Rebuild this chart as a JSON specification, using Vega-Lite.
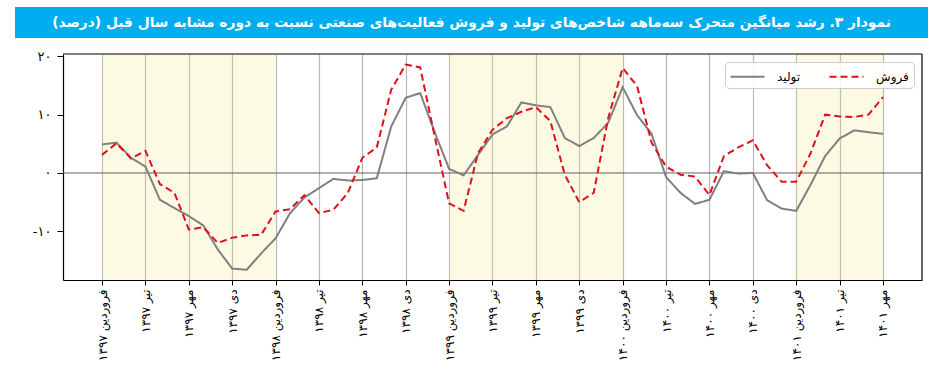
{
  "$schema": "https://vega.github.io/schema/vega-lite/v6.json",
  "padding": {"left": 15, "top": 7, "right": 0, "bottom": 0},
  "spacing": 12,
  "columns": 1,
  "resolve": {"scale": {"color": "independent", "strokeDash": "independent"}, "legend": {"color": "independent", "strokeDash": "independent"}},
  "config": {
    "font": "DejaVu Sans",
    "view": {"stroke": null}
  },
  "concat": [
    {
      "width": 913,
      "height": 31,
      "view": {"fill": "#00aeef", "stroke": null},
      "data": {"values": [{"t": "نمودار ۳. رشد میانگین متحرک سه‌ماهه شاخص‌های تولید و فروش فعالیت‌های صنعتی نسبت به دوره مشابه سال قبل (درصد)"}]},
      "mark": {"type": "text", "color": "#ffffff", "fontSize": 13.8, "fontWeight": "bold", "font": "DejaVu Sans", "align": "center", "baseline": "middle", "dir": "rtl"},
      "encoding": {"text": {"field": "t"}}
    },
    {
      "width": 907,
      "height": 226,
      "layer": [
        {
          "data": {"values": [{"from": 0, "to": 12}, {"from": 24, "to": 36}, {"from": 48, "to": 54}]},
          "mark": {"type": "rect", "fill": "#f5e673", "opacity": 0.2},
          "encoding": {
            "x": {
              "field": "from", "type": "quantitative",
              "scale": {"domain": [-2.7, 56.7], "nice": false, "zero": false, "rangeMin": 48},
              "axis": {
                "title": null,
                "values": [0, 3, 6, 9, 12, 15, 18, 21, 24, 27, 30, 33, 36, 39, 42, 45, 48, 51, 54],
                "labelExpr": "['فروردین','تیر','مهر','دی'][(datum.value/3)%4] + ' ' + ['۱۳۹۷','۱۳۹۸','۱۳۹۹','۱۴۰۰','۱۴۰۱'][floor(datum.value/12)]",
                "labelAngle": -90,
                "labelFontSize": 12,
                "labelColor": "#000000",
                "labelPadding": 4,
                "grid": true,
                "gridColor": "#b8b8b8",
                "gridWidth": 1.2,
                "domain": true,
                "domainColor": "#000000",
                "domainWidth": 1.2,
                "tickColor": "#000000",
                "tickSize": 5,
                "labelOverlap": false,
                "labelBound": false,
                "labelFlush": false
              }
            },
            "x2": {"field": "to"}
          }
        },
        {
          "data": {"values": [{"lo": -2.7, "hi": 56.7, "v": 0}]},
          "mark": {"type": "rule", "color": "#606060", "strokeWidth": 1},
          "encoding": {
            "x": {"field": "lo", "type": "quantitative"},
            "x2": {"field": "hi"},
            "y": {"field": "v", "type": "quantitative"}
          }
        },
        {
          "data": {"values": [{"lo": -2.7, "hi": 56.7, "v": 20.4}]},
          "mark": {"type": "rule", "color": "#000000", "strokeWidth": 1.2},
          "encoding": {
            "x": {"field": "lo", "type": "quantitative"},
            "x2": {"field": "hi"},
            "y": {"field": "v", "type": "quantitative"}
          }
        },
        {
          "data": {"values": [{"edge": 56.7}]},
          "mark": {"type": "rule", "color": "#000000", "strokeWidth": 1.2},
          "encoding": {
            "x": {"field": "edge", "type": "quantitative"}
          }
        },
        {
          "data": {"values": [
            {"n": 0, "تولید": 4.9, "فروش": 3.1},
            {"n": 1, "تولید": 5.2, "فروش": 5.1},
            {"n": 2, "تولید": 2.6, "فروش": 2.5},
            {"n": 3, "تولید": 1.1, "فروش": 3.8},
            {"n": 4, "تولید": -4.6, "فروش": -1.9},
            {"n": 5, "تولید": -6.0, "فروش": -3.4},
            {"n": 6, "تولید": -7.4, "فروش": -9.7},
            {"n": 7, "تولید": -9.0, "فروش": -9.3},
            {"n": 8, "تولید": -13.1, "فروش": -12.0},
            {"n": 9, "تولید": -16.4, "فروش": -11.1},
            {"n": 10, "تولید": -16.6, "فروش": -10.7},
            {"n": 11, "تولید": -13.8, "فروش": -10.6},
            {"n": 12, "تولید": -11.2, "فروش": -6.6},
            {"n": 13, "تولید": -6.9, "فروش": -6.2},
            {"n": 14, "تولید": -4.2, "فروش": -3.8},
            {"n": 15, "تولید": -2.6, "فروش": -6.9},
            {"n": 16, "تولید": -1.0, "فروش": -6.3},
            {"n": 17, "تولید": -1.3, "فروش": -3.4},
            {"n": 18, "تولید": -1.2, "فروش": 2.6},
            {"n": 19, "تولید": -0.9, "فروش": 4.4},
            {"n": 20, "تولید": 8.0, "فروش": 14.3},
            {"n": 21, "تولید": 12.9, "فروش": 18.6},
            {"n": 22, "تولید": 13.7, "فروش": 18.1},
            {"n": 23, "تولید": 7.0, "فروش": 6.3},
            {"n": 24, "تولید": 0.7, "فروش": -5.2},
            {"n": 25, "تولید": -0.4, "فروش": -6.5},
            {"n": 26, "تولید": 3.1, "فروش": 3.4},
            {"n": 27, "تولید": 6.6, "فروش": 7.4},
            {"n": 28, "تولید": 8.0, "فروش": 9.4},
            {"n": 29, "تولید": 12.1, "فروش": 10.5},
            {"n": 30, "تولید": 11.6, "فروش": 11.3},
            {"n": 31, "تولید": 11.3, "فروش": 8.9},
            {"n": 32, "تولید": 6.0, "فروش": -0.3},
            {"n": 33, "تولید": 4.6, "فروش": -5.0},
            {"n": 34, "تولید": 6.0, "فروش": -3.4},
            {"n": 35, "تولید": 8.6, "فروش": 9.4},
            {"n": 36, "تولید": 14.7, "فروش": 18.0},
            {"n": 37, "تولید": 9.9, "فروش": 14.9},
            {"n": 38, "تولید": 6.7, "فروش": 5.2},
            {"n": 39, "تولید": -0.7, "فروش": 1.1},
            {"n": 40, "تولید": -3.4, "فروش": -0.3},
            {"n": 41, "تولید": -5.3, "فروش": -0.6},
            {"n": 42, "تولید": -4.6, "فروش": -3.8},
            {"n": 43, "تولید": 0.3, "فروش": 2.9},
            {"n": 44, "تولید": -0.1, "فروش": 4.4},
            {"n": 45, "تولید": 0.0, "فروش": 5.6},
            {"n": 46, "تولید": -4.7, "فروش": 1.3},
            {"n": 47, "تولید": -6.1, "فروش": -1.5},
            {"n": 48, "تولید": -6.5, "فروش": -1.5},
            {"n": 49, "تولید": -2.0, "فروش": 3.4},
            {"n": 50, "تولید": 2.9, "فروش": 10.0},
            {"n": 51, "تولید": 5.9, "فروش": 9.7},
            {"n": 52, "تولید": 7.3, "فروش": 9.6},
            {"n": 53, "تولید": 7.0, "فروش": 10.0},
            {"n": 54, "تولید": 6.7, "فروش": 13.0}
          ]},
          "transform": [{"fold": ["تولید", "فروش"], "as": ["series", "value"]}],
          "mark": {"type": "line", "strokeWidth": 2},
          "encoding": {
            "x": {"field": "n", "type": "quantitative"},
            "y": {
              "field": "value", "type": "quantitative",
              "scale": {"domain": [-18.35, 20.4], "nice": false, "zero": false},
              "axis": {
                "title": null,
                "values": [-10, 0, 10, 20],
                "labelExpr": "replace(replace(replace(replace(datum.label, regexp('0','g'), '۰'), regexp('1','g'), '۱'), regexp('2','g'), '۲'), regexp('\u2212','g'), '-')",
                "labelFontSize": 13,
                "labelColor": "#000000",
                "labelPadding": 6,
                "grid": false,
                "offset": -48,
                "domain": true,
                "domainColor": "#000000",
                "domainWidth": 1.2,
                "tickColor": "#000000",
                "tickSize": 6
              }
            },
            "color": {
              "field": "series", "type": "nominal",
              "scale": {"domain": ["تولید", "فروش"], "range": ["#808080", "#e0101a"]},
              "legend": {
                "title": null, "orient": "top-right", "offset": 8, "direction": "horizontal",
                "symbolType": "M-2,0h4", "symbolSize": 289, "symbolStrokeWidth": 2, "symbolOffset": 8,
                "labelFontSize": 12, "labelOffset": 20, "columnPadding": 24,
                "fillColor": "rgba(255,255,255,0.85)", "strokeColor": "#cccccc", "cornerRadius": 4, "padding": 5
              }
            },
            "strokeDash": {
              "field": "series", "type": "nominal",
              "scale": {"domain": ["تولید", "فروش"], "range": [[1, 0], [7, 4]]},
              "legend": {
                "title": null, "orient": "top-right", "offset": 8, "direction": "horizontal",
                "symbolType": "M-2,0h4", "symbolSize": 289, "symbolStrokeWidth": 2, "symbolOffset": 8,
                "labelFontSize": 12, "labelOffset": 20, "columnPadding": 24,
                "fillColor": "rgba(255,255,255,0.85)", "strokeColor": "#cccccc", "cornerRadius": 4, "padding": 5
              }
            }
          }
        }
      ],
      "resolve": {"scale": {"x": "shared", "y": "shared"}}
    }
  ]
}
